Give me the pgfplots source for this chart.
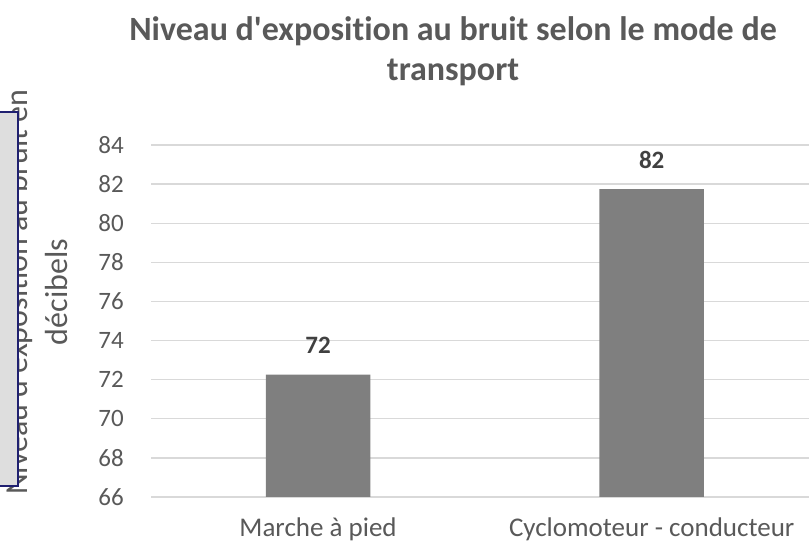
\documentclass[border=0pt]{standalone}
\usepackage{pgfplots}
\pgfplotsset{compat=1.18}
\usepackage{fontspec}
\setmainfont{Carlito}[Ligatures=NoCommon]
\definecolor{txt}{HTML}{595959}
\definecolor{gridc}{HTML}{D9D9D9}
\definecolor{barc}{HTML}{7F7F7F}
\definecolor{lbl}{HTML}{404040}
\definecolor{boxfill}{HTML}{DEDEDE}
\definecolor{boxdraw}{HTML}{1F2070}
\begin{document}
\begin{tikzpicture}[x=1pt,y=1pt]
\useasboundingbox (0,0) rectangle (809,545);
\clip (0,0) rectangle (809,545);
\begin{axis}[
  at={(151.25pt,48pt)}, anchor=south west,
  scale only axis, width=657.75pt, height=352pt,
  xmin=-0.5, xmax=1.4715, ymin=66, ymax=84,
  ytick={66,68,...,84},
  xtick={0,1}, xticklabels={Marche à pied, Cyclomoteur - conducteur},
  axis line style={draw=none},
  major tick length=0pt,
  ymajorgrids, grid style={gridc, line width=1.3pt},
  ybar, bar width=104.5pt, bar shift=0pt,
  /pgf/number format/assume math mode=true,
  yticklabel style={font=\fontsize{25}{30}\selectfont, text=txt, xshift=-24pt},
  xticklabel style={font=\fontsize{27}{32}\selectfont, text=txt, yshift=-17pt},
  nodes near coords={\pgfmathprintnumber[fixed,precision=0]{\pgfplotspointmeta}},
  every node near coord/.append style={font=\bfseries\fontsize{25}{30}\selectfont, text=lbl, anchor=center, yshift=29pt},
  title={Niveau d\textquotesingle{}exposition au bruit selon le mode de\\transport},
  title style={at={(axis description cs:0.4588,1.25)}, anchor=center, align=center, font=\bfseries\fontsize{34}{40}\selectfont, text=txt},
  ylabel={Niveau d\textquotesingle{}exposition au bruit en\\décibels},
  ylabel style={at={(axis description cs:-0.1745,0.582)}, anchor=center, align=center, font=\fontsize{32}{40}\selectfont, text=txt},
]
\addplot[fill=barc, draw=none] coordinates {(0,72.26) (1,81.74)};
\end{axis}
\filldraw[fill=boxfill, draw=boxdraw, line width=1.5pt] (-5,59) rectangle (18,433);
\end{tikzpicture}
\end{document}
